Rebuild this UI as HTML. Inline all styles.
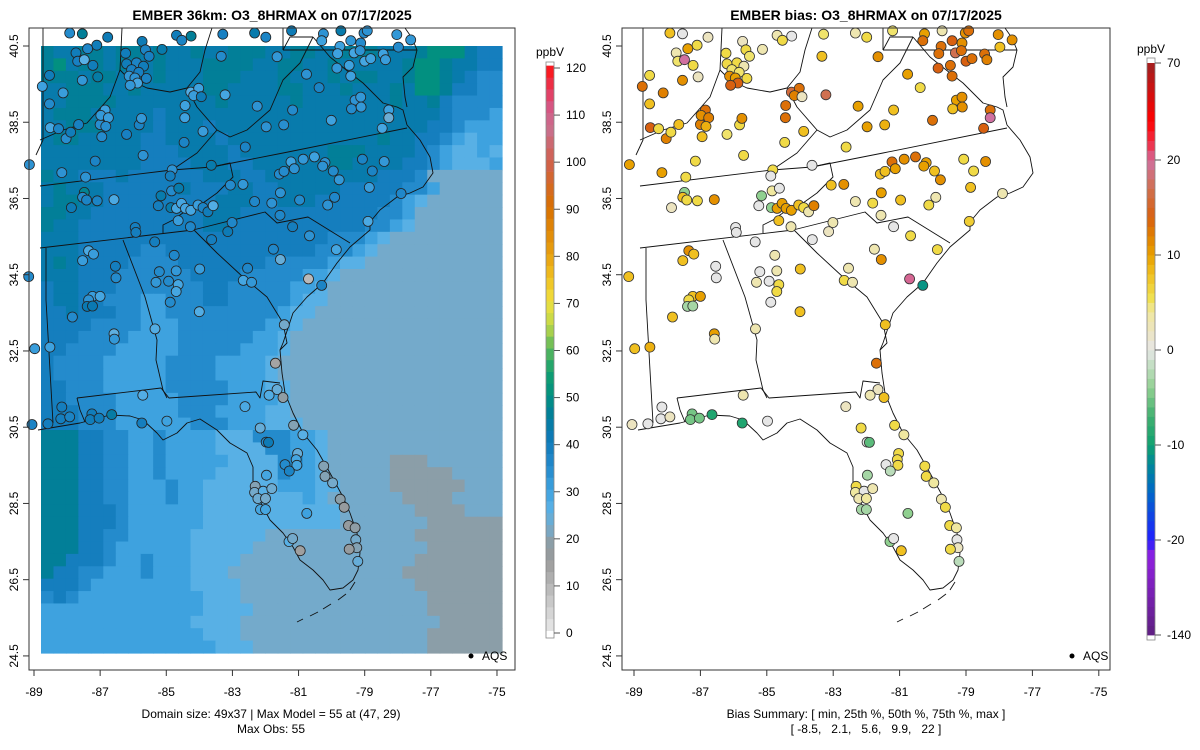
<!DOCTYPE html>
<html><head><meta charset="utf-8">
<style>
html,body{margin:0;padding:0;background:#fff;}
svg{display:block;font-family:"Liberation Sans",Arial,sans-serif;}
</style></head>
<body>
<svg id="fig" width="1200" height="750" viewBox="0 0 1200 750" xmlns="http://www.w3.org/2000/svg">
  <rect x="0" y="0" width="1200" height="750" fill="#fff"/>
  <text x="272" y="20" text-anchor="middle" font-size="14" font-weight="bold">EMBER 36km: O3_8HRMAX on 07/17/2025</text>
  <text x="866" y="20" text-anchor="middle" font-size="14" font-weight="bold">EMBER bias: O3_8HRMAX on 07/17/2025</text>
  <g id="leftPanel"></g>
  <g id="rightPanel"></g>
  <text x="271" y="718" text-anchor="middle" font-size="12">Domain size: 49x37 | Max Model = 55 at (47, 29)</text>
  <text x="271" y="733" text-anchor="middle" font-size="12">Max Obs: 55</text>
  <text x="866" y="718" text-anchor="middle" font-size="12">Bias Summary: [ min, 25th %, 50th %, 75th %, max ]</text>
  <text x="866" y="733" text-anchor="middle" font-size="12" xml:space="preserve">[ -8.5,   2.1,   5.6,   9.9,   22 ]</text>
</svg>
<script>
// ---------------- DATA ----------------
const xTickLabels = [-89,-87,-85,-83,-81,-79,-77,-75];
const yTickLabels = [40.5,38.5,36.5,34.5,32.5,30.5,28.5,26.5,24.5];
const modelTicks = [0,10,20,30,40,50,60,70,80,90,100,110,120];
const biasTicks = [-140,-20,-10,0,10,20,70];
// model grid (49 rows x 37 cols); chars are concentration levels
const levelChars = ['g','h','l','m','b','d','e','t','n'];
const levelValues = [19,22,26,30,35,39,43,46,50];
const modelRows = [
"teettetteteeteettteetteettteeetnnnedd",
"tnetteteeteeetttteetteeteeeeetnnteedd",
"tttetteeeteeettteeeteeetetteetnntedbb",
"eettteeteeeeetteeeetteeeteeetenntddbb",
"eetttteeeeeeeeteeeeeteeeeeeeteetdbbbb",
"ettteeeeedeeeeeeeeeeeeeeeeeeeeeedbbbm",
"eettteeeedeeedeeeeeeeeeeeeeeeeeddbmmm",
"etteeeeeddeeeedeeeeeeeeeeeeteeddbmlmm",
"eeeeeeeedddeeeedeeeeeeettteeeedbmllml",
"eeeeeeeeddddeeeddeeeeeetteeeeddbmlllm",
"teedddeddddddeeeddeeeeeeeeedddbhhhhhh",
"eteeeddddddedddeeddeeeeedddddbbmhhhhh",
"etteedddddddddeeeddeeeddddddbmlhhhhhh",
"tteedddddddddeeedddddddddddbbmhhhhhhh",
"teeddddddddddeedddddddddddbbmlhhhhhhh",
"eeeddddddddddddddddddddbbbmlhhhhhhhhh",
"eeedddddbbddddddddddddbbbmlhhhhhhhhhh",
"eteddddbbbbdddddddbbbbbmllhhhhhhhhhhh",
"eeedddbbbbbbddddbbbbbmmlhhhhhhhhhhhhh",
"deedddbbbbbbbddbbbbbmmlhhhhhhhhhhhhhh",
"deeddbbbmmbbbddbbbbbmllhhhhhhhhhhhhhh",
"ddedddbbmmbbbbbbbbbmllhhhhhhhhhhhhhhh",
"ddddbbbbmmmbbbbbbbmmlhhhhhhhhhhhhhhhh",
"dddbbbbmmmmbbbbbbmmlhhhhhhhhhhhhhhhhh",
"ddbbbbmmmmmbbbbbmmmlhhhhhhhhhhhhhhhhh",
"dbbbbmmmmmbbbbmmmmlhhhhhhhhhhhhhhhhhh",
"dbbbbmmmmmbbbbmmmmlhhhhhhhhhhhhhhhhhh",
"ddbbbmmmmmbbbbbmmmllhhhhhhhhhhhhhhhhh",
"ddbbbbmmmmmbbbbmmmmlhhhhhhhhhhhhhhhhh",
"dddbbbmmmmmbbbmmmmllhhhhhhhhhhhhhhhhh",
"dddbbbmmmmmmbbbmmmlllhhhhhhhhhhhhhhhh",
"tttddbbmmbmmmmlllbbbmmlhhhhhhhhhhhhhh",
"tttddbbmmbmmmmllllbbmmlhhhhhhhhhhhhhh",
"tttddbbmmbmmmmmllllbbmlhhhhhggghhhhhh",
"tttddbbmmbmmmmlllllbmmlhhhhhggggghhhh",
"tttddbbmmmbmmllllllmmmllhhhhgggggghhh",
"tttddbbmmmbmmllllllllmlhhhhhhgggghhhh",
"tttdddbmmmmmmlllllllllllhhhhhhgggghhh",
"tttdddbmmmmmmlllllllllllhhhhhhhgggggg",
"tttddbbmmmmmllllllhhhhhhhhhhhhgggggg",
"tttddbmmmmmmlllllhhhhhhhhhhhhhhggggg",
"ttdddbmmbmmmllllhhhhhhhhhhhhhhggggggg",
"tddbbmmmbmmmlllhhhhhhhhhhhhhhggggggg",
"dddbmmmmmmmmllllhhhhhhhhhhhhhhgggggg",
"bdbmmmmmmmmmmlllhhhhhhhhhhhhhhhggggg",
"mmmmmmmmmmmmmllllhhhhhhhhhhhhhhggggg",
"mmmmmmmmmmmmllllhhhhhhhhhhhhhhhhgggg",
"mmmmmmmmmmmmmlllhhhhhhhhhhhhhhhggggg",
"mmmmmmmmmmmmmmlllhhhhhhhhhhhhhhggggg"
];
// AQS sites
const siteLon = [-87.92,-87.54,-86.77,-87.10,-87.38,-87.73,-87.68,-87.48,-87.22,-87.07,-87.54,-88.53,-88.75,-88.12,-88.53,-88.51,-88.26,-88.03,-87.89,-87.65,-86.95,-87.00,-86.85,-86.98,-86.75,-86.83,-86.20,-85.82,-85.75,-85.70,-87.15,-88.16,-87.44,-89.14,-86.23,-85.73,-85.63,-85.52,-85.13,-86.20,-85.90,-85.69,-86.05,-85.83,-85.60,-86.12,-85.95,-85.87,-86.09,-84.69,-84.53,-84.25,-83.29,-83.34,-84.26,-84.02,-84.17,-83.94,-84.43,-84.44,-83.89,-84.46,-83.22,-82.25,-81.98,-81.45,-81.18,-81.65,-80.76,-80.38,-80.01,-82.61,-82.33,-81.99,-81.21,-80.25,-79.72,-80.30,-79.75,-79.82,-79.42,-79.32,-79.12,-79.02,-78.92,-79.14,-79.84,-79.47,-79.42,-79.00,-78.82,-78.44,-78.37,-78.03,-77.61,-77.98,-79.29,-79.12,-79.40,-79.11,-78.27,-78.27,-78.47,-79.07,-78.41,-78.77,-78.86,-77.90,-78.90,-81.23,-80.86,-80.52,-80.20,-80.27,-81.13,-81.58,-81.44,-79.95,-79.77,-81.55,-80.97,-80.12,-79.91,-82.33,-81.81,-81.56,-83.06,-82.68,-83.64,-84.82,-84.88,-84.84,-84.62,-85.16,-85.24,-84.86,-84.69,-84.54,-84.42,-84.26,-84.04,-83.89,-83.74,-83.58,-84.64,-84.27,-85.94,-85.92,-87.48,-87.53,-87.41,-87.09,-86.58,-87.87,-83.01,-83.14,-83.63,-81.18,-80.67,-79.86,-81.76,-81.55,-82.54,-82.67,-82.42,-80.70,-80.30,-84.00,-81.43,-85.35,-84.76,-83.99,-84.70,-85.21,-85.31,-84.93,-84.64,-84.70,-84.88,-87.35,-87.20,-87.53,-86.54,-86.52,-87.23,-87.00,-87.35,-87.39,-87.23,-87.84,-89.16,-86.58,-86.57,-88.98,-88.52,-85.34,-81.70,-88.16,-88.19,-87.92,-88.58,-89.06,-87.25,-87.30,-87.03,-86.65,-85.74,-84.98,-85.71,-81.65,-81.89,-81.47,-82.62,-82.16,-81.15,-80.87,-81.98,-81.91,-81.03,-81.07,-81.05,-81.41,-81.28,-81.97,-80.24,-80.20,-79.97,-79.74,-79.62,-79.49,-79.29,-79.27,-79.24,-79.47,-79.21,-82.31,-82.33,-82.07,-81.81,-82.23,-82.00,-82.15,-82.00,-80.75,-81.29,-81.18,-80.95];
const siteLat = [40.84,40.82,40.73,40.52,40.43,40.32,40.10,40.14,39.99,39.69,39.60,39.73,39.44,39.27,38.98,38.36,38.33,38.07,38.24,38.44,38.12,38.44,38.82,38.68,38.62,38.39,38.18,38.43,38.60,37.63,37.48,37.18,37.06,37.39,40.31,40.62,40.40,40.23,40.41,40.03,40.06,39.97,39.88,39.81,39.65,39.71,39.66,39.53,39.47,40.78,40.65,40.76,40.81,40.23,39.29,39.39,39.20,39.17,38.94,38.62,38.26,37.97,39.22,38.92,38.38,38.43,38.82,40.22,39.76,39.41,38.55,37.85,40.84,40.73,40.90,40.82,40.90,40.64,40.49,40.30,40.64,40.32,40.58,40.84,40.90,40.38,39.92,39.99,39.71,40.10,40.17,40.29,40.14,40.80,40.66,40.47,39.08,39.16,38.85,38.90,38.82,38.62,38.34,37.53,37.47,37.22,36.79,36.63,35.90,37.46,37.53,37.59,37.44,37.35,37.28,37.14,37.21,37.22,36.99,36.65,36.46,36.33,36.53,36.42,36.38,36.06,36.85,36.87,37.37,37.25,37.09,36.70,36.77,36.57,36.31,36.26,36.24,36.37,36.24,36.19,36.33,36.26,36.15,36.31,35.92,35.76,35.74,35.61,36.66,36.53,36.46,36.44,36.47,36.26,35.87,35.63,35.42,35.76,35.52,35.16,35.17,34.90,34.67,34.35,34.30,34.39,34.22,33.53,33.19,35.36,35.01,34.65,34.60,34.58,34.30,34.33,34.24,34.06,33.78,35.13,35.04,34.87,34.72,34.42,33.93,33.93,33.84,33.67,33.68,33.39,34.45,32.95,32.81,32.56,32.60,33.08,32.18,31.03,30.72,30.77,30.59,30.57,30.85,30.70,30.74,30.83,30.61,30.66,31.34,31.49,31.34,31.28,31.04,30.48,30.55,30.30,30.11,30.10,29.81,29.65,29.50,29.52,29.35,29.24,29.48,29.21,29.04,28.61,28.40,27.92,27.86,27.55,27.34,27.30,26.98,28.95,28.79,28.82,28.89,28.63,28.63,28.34,28.34,28.24,27.50,27.58,27.26];
const siteBias = [8,0,2,6,10,3,5,20,6,2,11,6,13,12,8,14,6,12,6,8,8,12,13,11,12,9,5,6,11,6,6,10,6,10,6,2,6,5,3,6,6,3,5,5,6,11,10,14,14,3,6,0,5,8,16,13,12,2,13,13,8,6,17,10,10,9,8,11,10,6,13,6,3,6,5,10,3,13,13,13,14,17,11,11,13,13,14,13,13,14,13,13,12,11,11,8,10,11,8,11,13,20,14,6,11,6,8,3,7,13,11,13,10,10,10,8,8,8,11,10,8,6,3,3,6,3,8,11,0,6,0,4,0,-4,0,-4,10,10,10,10,8,6,3,12,8,3,0,0,-4,8,6,6,11,2,3,2,0,0,6,6,3,11,3,6,3,21,-11,8,8,0,3,8,3,0,3,0,6,6,0,11,8,8,0,0,8,10,6,-3,-3,8,8,10,3,8,9,3,13,0,0,2,0,2,-5,-5,-5,-9,-9,0,3,2,3,8,2,6,6,4,0,-6,6,6,6,0,-2,-3,6,6,4,3,6,6,4,0,2,6,-2,6,4,0,3,3,4,-3,-3,-4,-4,0,8];

// ---------------- HELPERS ----------------
const NS='http://www.w3.org/2000/svg';
function mk(tag, attrs, parent){const e=document.createElementNS(NS,tag);for(const k in attrs)e.setAttribute(k,attrs[k]);if(parent)parent.appendChild(e);return e;}
function hex2rgb(h){return [parseInt(h.substr(1,2),16),parseInt(h.substr(3,2),16),parseInt(h.substr(5,2),16)];}
function ramp(stops,v){
  if(v<=stops[0][0])return stops[0][1];
  for(let i=1;i<stops.length;i++){if(v<=stops[i][0]){const a=stops[i-1],b=stops[i];const t=(v-a[0])/(b[0]-a[0]);const c1=hex2rgb(a[1]),c2=hex2rgb(b[1]);return 'rgb('+c1.map((c,j)=>Math.round(c+(c2[j]-c)*t)).join(',')+')';}}
  return stops[stops.length-1][1];
}
const modelStops=[[0,'#e8e8e8'],[10,'#b4b4b4'],[15,'#9a9a9a'],[19,'#8b9ea8'],[22,'#74aacb'],[26,'#58b0e5'],[30,'#3ea2df'],[34,'#288ecf'],[38,'#1880c2'],[42,'#0a79b2'],[46,'#027f98'],[50,'#029080'],[55,'#12a070'],[60,'#5cb85a'],[65,'#c0d848'],[70,'#f0e040'],[75,'#f0c020'],[80,'#e8a010'],[90,'#d87000'],[100,'#d06050'],[107,'#c87090'],[112,'#d85080'],[120,'#ff1010']];
const biasStops=[[-140,'#5e2080'],[-40,'#9020e0'],[-20,'#2020ff'],[-15,'#0068c8'],[-12,'#008898'],[-10,'#10a070'],[-7,'#40b070'],[-4,'#90d090'],[-1,'#cfe2cf'],[0,'#e6e6e6'],[2,'#ece4c0'],[4,'#f0e8a0'],[5.5,'#f0e050'],[8,'#f0c020'],[10,'#e8a000'],[12,'#e08000'],[14,'#d86010'],[17,'#d07050'],[20,'#d070a0'],[25,'#e84060'],[40,'#ff0000'],[70,'#a02020']];

const yOf = lat => 46 + (40.5-lat)*38.12;
const xL = lon => 34 + (lon+89)*33.07;
const xR = lon => 634 + (lon+89)*33.2;

// geography (left-panel pixel coordinates, shared by both panels)
const geo = [
 [[40,186],[172,170],[212,167],[283,153],[407,128]],
 [[40,248],[193,230],[265,212],[277,223],[308,217],[350,243]],
 [[194,230],[217,253],[243,277],[267,297],[283,323],[287,343],[280,350]],
 [[123,240],[145,297],[157,340],[156,360],[163,390],[167,398]],
 [[77,398],[161,388],[169,398],[256,392],[260,398],[263,381],[280,383]],
 [[77,398],[80,410],[85,422]],
 [[46,248],[46,300],[53,423]],
 [[38,430],[80,423],[110,415],[130,416],[143,420],[157,433],[163,440],[177,433],[187,423],[200,419],[217,430],[230,443],[247,453],[253,467],[253,487],[263,507],[270,520],[283,533],[293,547],[300,560],[313,570],[323,580],[330,590],[343,588],[353,580],[358,570],[360,553],[357,533],[350,513],[343,497],[330,473],[317,450],[303,433],[293,413],[285,393],[282,373],[280,350],[283,343],[293,313],[307,297],[323,283],[337,263],[350,247],[370,230],[370,222],[380,210],[397,197],[410,193],[423,187],[433,173],[430,157],[420,140],[407,125],[403,110],[397,107],[383,103],[363,83],[350,73],[330,57],[313,37]],
 [[407,107],[405,97],[403,77],[413,67],[417,50],[412,38],[405,28]],
 [[172,170],[197,153],[217,130],[197,107],[187,88]],
 [[217,130],[230,137],[247,130],[270,110],[283,80],[300,63],[313,37]],
 [[40,140],[63,130],[87,123],[110,97],[120,70],[130,80],[147,88],[170,92],[187,88],[200,72],[205,50],[212,28]],
 [[120,70],[122,28]],
 [[43,28],[43,140],[36,155]],
 [[212,167],[230,163],[233,177],[217,193],[203,203],[187,210],[173,220],[163,225],[163,233]],
 [[283,50],[290,37],[313,37]],
 [[283,50],[417,50]],
 [[283,28],[283,50]],
 [[300,560],[297,620]],
];
const keys=[[[297,622],[303,619]],[[310,616],[318,612]],[[323,609],[331,604]],[[338,600],[346,594]],[[350,590],[355,582]]];

function buildGeo(g, dx){
  const grp=mk('g',{fill:'none',stroke:'#111','stroke-width':'0.9','stroke-linejoin':'round'},g);
  
  
  geo.forEach((line,i)=>{
    if(i===geo.length-1) return;
    const p=mk('polyline',{points:line.map(q=>(q[0]+dx)+','+q[1]).join(' ')},grp);
    
    
  });
  keys.forEach(k=>{
    const p=mk('polyline',{points:k.map(q=>(q[0]+dx)+','+q[1]).join(' ')},grp);
    
    
  });
}

function buildAxes(g, x0, x1, xf){
  const box=mk('rect',{x:x0,y:28,width:x1-x0,height:642,fill:'none',stroke:'#333','stroke-width':'1'},g);
  
  
  xTickLabels.forEach(v=>{
    const x=xf(v);
    const t=mk('line',{x1:x,x2:x,y1:670,y2:676,stroke:'#333'},g);
    
    
    const l=mk('text',{x:x,y:696,'text-anchor':'middle','font-size':'12'},g);
    
    
    l.textContent=v;
  });
  yTickLabels.forEach(v=>{
    const y=yOf(v);
    const t=mk('line',{x1:x0-6,x2:x0,y1:y,y2:y,stroke:'#333'},g);
    
    
    const l=mk('text',{x:0,y:0,'text-anchor':'middle','font-size':'12',transform:'translate('+(x0-11)+','+y+') rotate(-90)'},g);
    
    
    l.textContent=v.toFixed(1);
  });
}

function buildLegend(g,x){
  const d=mk('circle',{cx:x,cy:656,r:2.5,fill:'#000'},g);
  
  
  const t=mk('text',{x:x+11,y:660,'font-size':'12'},g);
  
  
  t.textContent='AQS';
}

// ---------------- LEFT PANEL ----------------
const L=document.getElementById('leftPanel');
const gx0=41, gy0=46, cw=(502-41)/37, ch=(653-46)/49;
function modelAt(r,c){const row=modelRows[r];const ch_=row[Math.min(c,row.length-1)];const k=levelChars.indexOf(ch_);return levelValues[k<0?1:k];}
const gridG=mk('g',{},L);


for(let r=0;r<49;r++){for(let c=0;c<37;c++){
  const v=modelAt(r,c);
  const cell=mk('rect',{x:(gx0+c*cw).toFixed(2),y:(gy0+r*ch).toFixed(2),width:(cw+0.6).toFixed(2),height:(ch+0.6).toFixed(2),fill:ramp(modelStops,v)},gridG);
  
  
}}
buildGeo(L,0);
const obsG=mk('g',{},L);


siteLon.forEach((lon,i)=>{
  const x=xL(lon), y=yOf(siteLat[i]);
  const c=Math.max(0,Math.min(36,Math.floor((x-gx0)/cw))), r=Math.max(0,Math.min(48,Math.floor((y-gy0)/ch)));
  const obs=modelAt(r,c)-siteBias[i];
  const dot=mk('circle',{cx:x.toFixed(1),cy:y.toFixed(1),r:5,fill:ramp(modelStops,obs),stroke:'#222','stroke-width':'0.8'},obsG);
  
  
});
buildAxes(L,29,515,xL);
buildLegend(L,471);

// model colorbar
(function(){
  const cb=mk('g',{},L);
  
  
  const yv=v=>633-(v/120)*565;
  for(let v=0;v<120;v+=2.5){
    const s=mk('rect',{x:546,y:yv(v+2.5+0.5).toFixed(2),width:8,height:(2.5*565/120+0.3).toFixed(2),fill:ramp(modelStops,v+1.25)},cb);
    
    
  }
  const fr=mk('rect',{x:546,y:62,width:8,height:576,fill:'none',stroke:'#888','stroke-width':'0.8'},cb);
  
  
  modelTicks.forEach(v=>{
    const t=mk('line',{x1:554,x2:560,y1:yv(v),y2:yv(v),stroke:'#555'},cb);
    
    
    const l=mk('text',{x:566,y:yv(v)+4,'font-size':'12'},cb);
    
    
    l.textContent=v;
  });
  const u=mk('text',{x:550,y:56,'text-anchor':'middle','font-size':'12'},cb);
  
  
  u.textContent='ppbV';
})();

// ---------------- RIGHT PANEL ----------------
const R=document.getElementById('rightPanel');
buildGeo(R,600);
const biasG=mk('g',{},R);


siteLon.forEach((lon,i)=>{
  const dot=mk('circle',{cx:xR(lon).toFixed(1),cy:yOf(siteLat[i]).toFixed(1),r:5,fill:ramp(biasStops,siteBias[i]),stroke:'#333','stroke-width':'0.8'},biasG);
  
  
});
buildAxes(R,622,1110,xR);
buildLegend(R,1072);

// bias colorbar (nonlinear)
(function(){
  const cb=mk('g',{},R);
  
  
  const kv=[-140,-20,-10,0,10,20,70], ky=[635,540,445,350,255,160,63];
  const yv=v=>{for(let i=1;i<kv.length;i++){if(v<=kv[i]){const t=(v-kv[i-1])/(kv[i]-kv[i-1]);return ky[i-1]+(ky[i]-ky[i-1])*t;}}return ky[ky.length-1];};
  for(let i=0;i<kv.length-1;i++){
    const n=10;
    for(let j=0;j<n;j++){
      const a=kv[i]+(kv[i+1]-kv[i])*j/n, b=kv[i]+(kv[i+1]-kv[i])*(j+1)/n;
      const s=mk('rect',{x:1147,y:yv(b).toFixed(2),width:8,height:(yv(a)-yv(b)+0.4).toFixed(2),fill:ramp(biasStops,(a+b)/2)},cb);
      
      
    }
  }
  const fr=mk('rect',{x:1147,y:58,width:8,height:582,fill:'none',stroke:'#888','stroke-width':'0.8'},cb);
  
  
  biasTicks.forEach(v=>{
    const y=yv(v);
    const t=mk('line',{x1:1155,x2:1161,y1:y,y2:y,stroke:'#555'},cb);
    
    
    const l=mk('text',{x:1167,y:y+4,'font-size':'12'},cb);
    
    
    l.textContent=v;
  });
  const u=mk('text',{x:1151,y:53,'text-anchor':'middle','font-size':'12'},cb);
  
  
  u.textContent='ppbV';
})();
</script>
</body></html>
